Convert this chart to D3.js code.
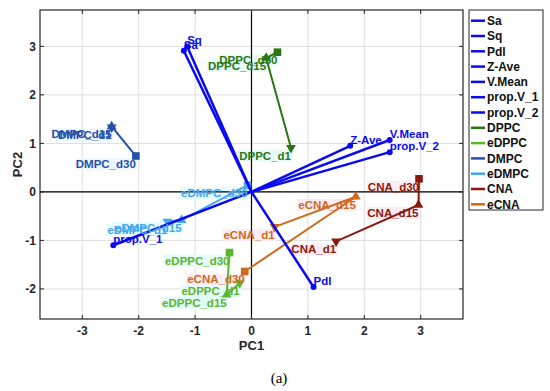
<!DOCTYPE html>
<html>
<head>
  <meta charset="utf-8">
  <script src="https://d3js.org/d3.v7.min.js"></script>
  <style type="text/css">
    body { margin: 0; background: #fff; }
    .tick-label { font-family: Arial, "Liberation Sans", sans-serif; font-weight: bold; font-size: 12px; fill: #262626; }
    .axis-title { font-family: Arial, "Liberation Sans", sans-serif; font-weight: bold; font-size: 13px; fill: #262626; }
    .pt-label { font-family: Arial, "Liberation Sans", sans-serif; font-weight: bold; font-size: 11.5px; }
    .legend { font-family: Arial, "Liberation Sans", sans-serif; font-weight: bold; font-size: 12px; fill: #111; }
  </style>
</head>
<body>
<script type="text/javascript">
  // Loading vectors (variables)
  var varNames = ["Sa", "Sq", "Pdl", "Z-Ave", "V.Mean", "prop.V_1", "prop.V_2"];
  var varPC1 = [-1.20, -1.14, 1.10, 1.75, 2.45, -2.45, 2.45];
  var varPC2 = [2.91, 3.00, -1.96, 0.95, 1.07, -1.10, 0.82];

  // Samples, days d1, d15, d30
  var days = ["d1", "d15", "d30"];
  var groups = ["DPPC", "eDPPC", "DMPC", "eDMPC", "CNA", "eCNA"];
  var groupPC1 = {
    DPPC: [0.70, 0.26, 0.46],
    eDPPC: [-0.21, -0.44, -0.39],
    DMPC: [-2.48, -2.48, -2.05],
    eDMPC: [-1.49, -1.24, -0.07],
    CNA: [1.50, 2.96, 2.97],
    eCNA: [0.41, 1.85, -0.12]
  };
  var groupPC2 = {
    DPPC: [0.91, 2.76, 2.88],
    eDPPC: [-1.88, -2.12, -1.25],
    DMPC: [1.33, 1.35, 0.74],
    eDMPC: [-0.61, -0.58, 0.14],
    CNA: [-1.02, -0.27, 0.27],
    eCNA: [-0.72, -0.10, -1.64]
  };

  var xTicks = [-3, -2, -1, 0, 1, 2, 3];
  var yTicks = [-2, -1, 0, 1, 2, 3];

  var blue = "#0a0af0";
  var colors = {
    DPPC: "#2a7614",
    eDPPC: "#5cb52a",
    DMPC: "#2450aa",
    eDMPC: "#45a6f0",
    CNA: "#8a1a10",
    eCNA: "#cc6a1f"
  };
  // faint label backgrounds
  var halo = {
    DPPC: "#e6fbf8", eDPPC: "#e3fbfb", DMPC: "#eef6ff",
    eDMPC: "#e3fbfb", CNA: "#fdecf1", eCNA: "#fdecf1"
  };

  var width = 550, height = 391;
  var pLeft = 40, pRight = 463, pTop = 10, pBottom = 319;

  var svg = d3.select("body").append("svg")
      .attr("width", width)
      .attr("height", height);

  var x = d3.scaleLinear().domain([-3.75, 3.75]).range([pLeft, pRight]);
  var y = d3.scaleLinear().domain([-2.62, 3.75]).range([pBottom, pTop]);

  // grid
  svg.selectAll(".gx").data(xTicks).enter().append("line")
      .attr("x1", d => x(d)).attr("x2", d => x(d))
      .attr("y1", pTop).attr("y2", pBottom)
      .attr("stroke", "#dedede").attr("stroke-width", 1);
  svg.selectAll(".gy").data(yTicks).enter().append("line")
      .attr("x1", pLeft).attr("x2", pRight)
      .attr("y1", d => y(d)).attr("y2", d => y(d))
      .attr("stroke", "#dedede").attr("stroke-width", 1);

  var bgLayer = svg.append("g");

  // zero lines
  svg.append("line").attr("x1", x(0)).attr("x2", x(0)).attr("y1", pTop).attr("y2", pBottom)
      .attr("stroke", "#000").attr("stroke-width", 1.2);
  svg.append("line").attr("x1", pLeft).attr("x2", pRight).attr("y1", y(0)).attr("y2", y(0))
      .attr("stroke", "#000").attr("stroke-width", 1.2);

  // box + inward ticks
  svg.append("rect").attr("x", pLeft).attr("y", pTop)
      .attr("width", pRight - pLeft).attr("height", pBottom - pTop)
      .attr("fill", "none").attr("stroke", "#262626").attr("stroke-width", 1.2);
  xTicks.forEach(function(t) {
    svg.append("line").attr("x1", x(t)).attr("x2", x(t)).attr("y1", pBottom).attr("y2", pBottom - 4).attr("stroke", "#262626");
    svg.append("line").attr("x1", x(t)).attr("x2", x(t)).attr("y1", pTop).attr("y2", pTop + 4).attr("stroke", "#262626");
  });
  yTicks.forEach(function(t) {
    svg.append("line").attr("x1", pLeft).attr("x2", pLeft + 4).attr("y1", y(t)).attr("y2", y(t)).attr("stroke", "#262626");
    svg.append("line").attr("x1", pRight).attr("x2", pRight - 4).attr("y1", y(t)).attr("y2", y(t)).attr("stroke", "#262626");
  });

  svg.selectAll(".xl").data(xTicks).enter().append("text")
      .attr("class", "tick-label")
      .attr("x", d => x(d)).attr("y", pBottom + 16)
      .attr("text-anchor", "middle")
      .text(d => d);
  svg.selectAll(".yl").data(yTicks).enter().append("text")
      .attr("class", "tick-label")
      .attr("x", pLeft - 4).attr("y", d => y(d)).attr("dy", "0.35em")
      .attr("text-anchor", "end")
      .text(d => d);

  svg.append("text").attr("class", "axis-title")
      .attr("x", (pLeft + pRight) / 2).attr("y", 350).attr("text-anchor", "middle").text("PC1");
  svg.append("text").attr("class", "axis-title")
      .attr("transform", "translate(22," + ((pTop + pBottom) / 2) + ") rotate(-90)")
      .attr("text-anchor", "middle").text("PC2");

  // sample trajectories
  var line = d3.line().x(d => x(d[0])).y(d => y(d[1]));
  var tri = d3.symbol().type(d3.symbolTriangle).size(42);
  var sq = d3.symbol().type(d3.symbolSquare).size(58);

  groups.forEach(function(g) {
    var pts = days.map((d, i) => [groupPC1[g][i], groupPC2[g][i]]);
    svg.append("path").attr("d", line(pts))
        .attr("fill", "none").attr("stroke", colors[g]).attr("stroke-width", 2);
    pts.forEach(function(p, i) {
      var m = svg.append("path").attr("fill", colors[g]);
      if (i == 2) m.attr("d", sq()).attr("transform", "translate(" + x(p[0]) + "," + y(p[1]) + ")");
      else if (i == 0) m.attr("d", tri()).attr("transform", "translate(" + x(p[0]) + "," + y(p[1]) + ") rotate(180)");
      else m.attr("d", tri()).attr("transform", "translate(" + x(p[0]) + "," + y(p[1]) + ")");
    });
  });

  // loading vectors
  varNames.forEach(function(v, i) {
    svg.append("line")
        .attr("x1", x(0)).attr("y1", y(0))
        .attr("x2", x(varPC1[i])).attr("y2", y(varPC2[i]))
        .attr("stroke", blue).attr("stroke-width", 2.5);
    svg.append("circle").attr("cx", x(varPC1[i])).attr("cy", y(varPC2[i]))
        .attr("r", 3).attr("fill", blue);
  });

  // sample labels
  groups.forEach(function(g) {
    days.forEach(function(d, i) {
      var t = svg.append("text").attr("class", "pt-label")
          .attr("x", x(groupPC1[g][i])).attr("y", y(groupPC2[g][i]) + 8)
          .attr("dy", "0.35em").attr("text-anchor", "end")
          .attr("fill", colors[g])
          .text(g + "_" + d);
      var b = t.node().getBBox();
      bgLayer.append("rect")
          .attr("x", b.x - 1).attr("y", b.y).attr("width", b.width + 2).attr("height", b.height)
          .attr("fill", halo[g]);
    });
  });

  // variable labels
  varNames.forEach(function(v, i) {
    svg.append("text").attr("class", "pt-label")
        .attr("x", x(varPC1[i])).attr("y", y(varPC2[i]) - 6)
        .attr("dy", "0.35em")
        .attr("fill", blue)
        .text(v);
  });

  // legend
  var legNames = varNames.concat(groups);
  var legColors = varNames.map(() => blue).concat(groups.map(g => colors[g]));
  svg.append("rect").attr("x", 469).attr("y", 10).attr("width", 74).attr("height", 200)
      .attr("fill", "#fff").attr("stroke", "#262626").attr("stroke-width", 1);
  legNames.forEach(function(n, i) {
    var ly = 20.7 + i * 15.3;
    svg.append("line").attr("x1", 471).attr("x2", 485).attr("y1", ly).attr("y2", ly)
        .attr("stroke", legColors[i]).attr("stroke-width", 2.5);
    svg.append("text").attr("class", "legend")
        .attr("x", 487).attr("y", ly).attr("dy", "0.35em").text(n);
  });

  svg.append("text")
      .attr("x", 279).attr("y", 383)
      .attr("text-anchor", "middle")
      .style("font-family", "'Liberation Serif', 'Times New Roman', serif")
      .style("font-size", "15px")
      .text("(a)");
</script>
</body>
</html>
